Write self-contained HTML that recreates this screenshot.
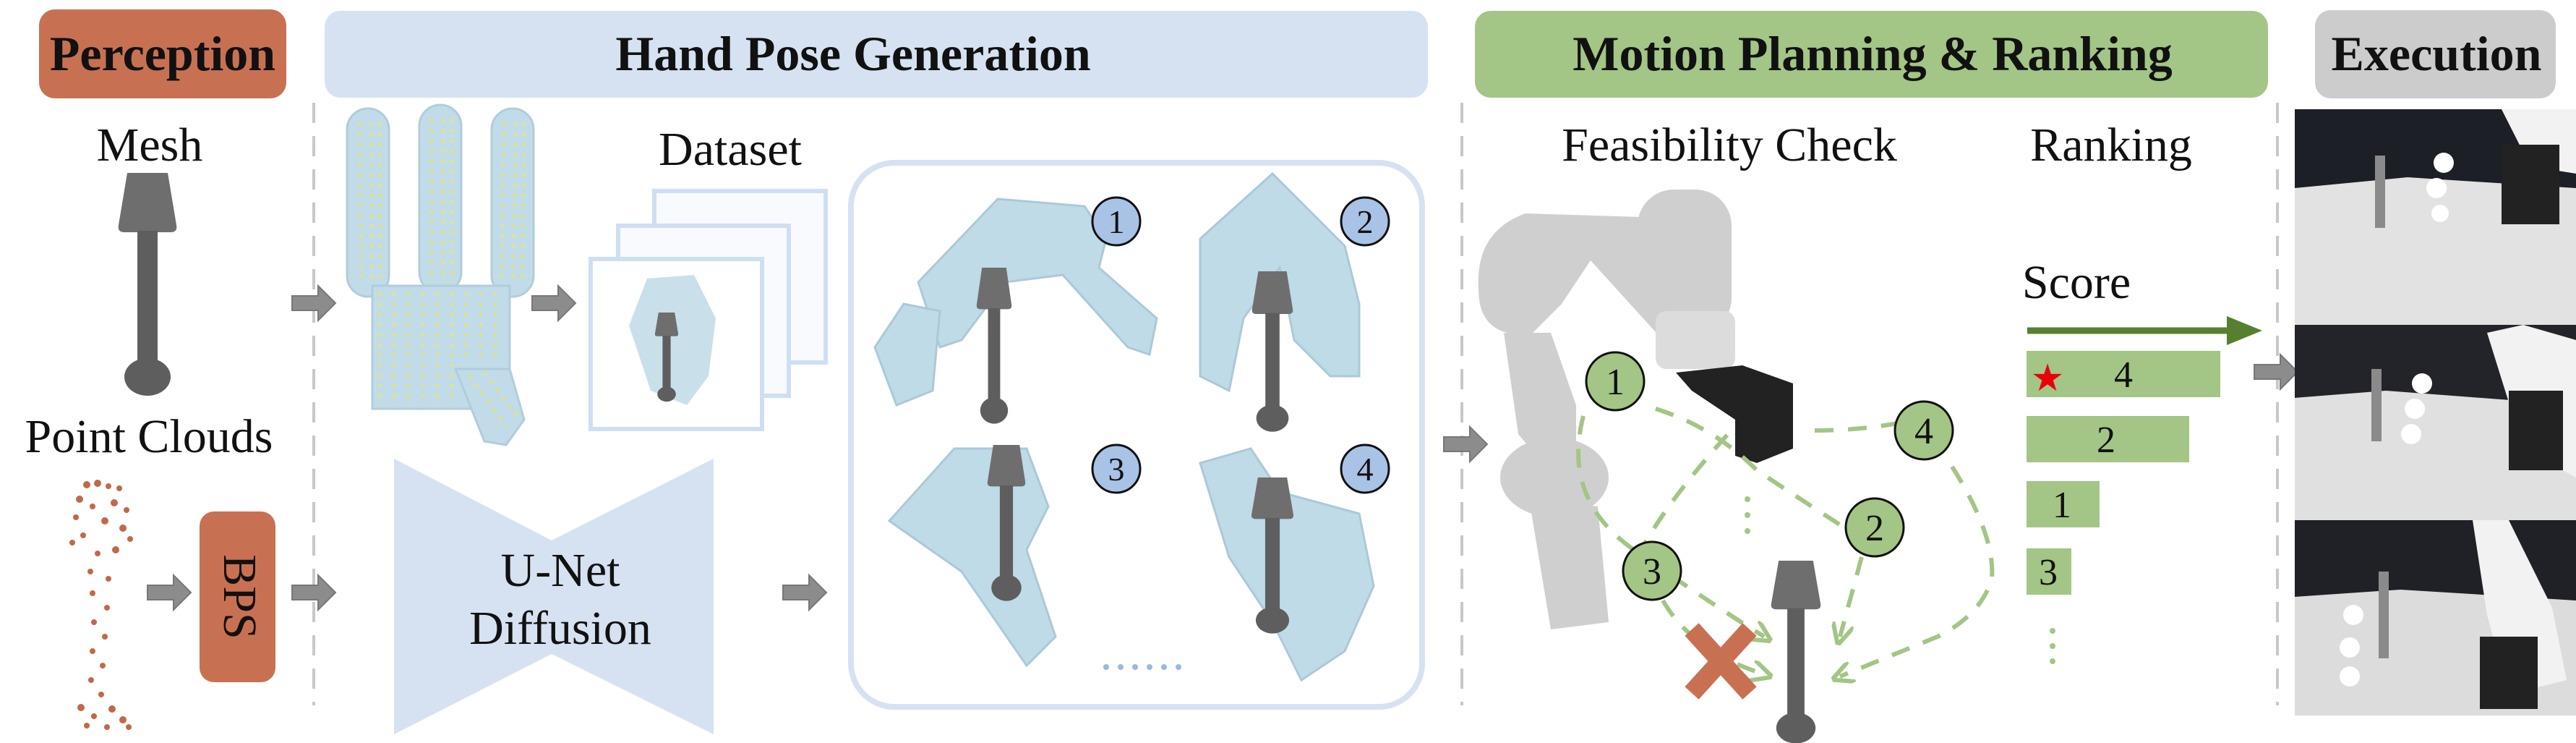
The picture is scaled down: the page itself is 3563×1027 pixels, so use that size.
<!DOCTYPE html>
<html><head><meta charset="utf-8"><style>
html,body{margin:0;padding:0;background:#fff}
svg{display:block}
svg text{font-family:"Liberation Serif","DejaVu Serif",serif}
</style></head><body>
<svg width="3563" height="1027" viewBox="0 0 3563 1027" xmlns="http://www.w3.org/2000/svg" font-family="Liberation Serif, DejaVu Serif, serif">
<defs>
<marker id="ga" viewBox="0 0 10 10" refX="6" refY="5" markerWidth="5" markerHeight="5" orient="auto"><path d="M0,0 L10,5 L0,10" fill="none" stroke="#a3c585" stroke-width="2"/></marker>
<g id="arr"><path d="M0,-10 H36 V-24 L60,0 L36,24 V10 H0 Z" fill="#8c8c8c" stroke="#777" stroke-width="2"/></g>
<g id="lamp"><path d="M-28,0 H28 L40,72 Q42,82 32,82 H-32 Q-42,82 -40,72 Z" fill="#6e6e6e"/><rect x="-14" y="80" width="28" height="185" fill="#5e5e5e"/><ellipse cx="0" cy="282" rx="32" ry="26" fill="#5e5e5e"/></g>
</defs>

<rect x="54" y="13" width="342" height="123" rx="22" fill="#c87152"/>
<text x="225" y="97" font-size="68" font-weight="bold" text-anchor="middle" fill="#111">Perception</text>
<rect x="449" y="15" width="1526" height="120" rx="22" fill="#d6e2f2"/>
<text x="1180" y="97" font-size="68" font-weight="bold" text-anchor="middle" fill="#111">Hand Pose Generation</text>
<rect x="2040" y="15" width="1097" height="120" rx="22" fill="#a3c585"/>
<text x="2590" y="97" font-size="68" font-weight="bold" text-anchor="middle" fill="#111">Motion Planning &amp; Ranking</text>
<rect x="3202" y="14" width="333" height="122" rx="22" fill="#cccccc"/>
<text x="3370" y="97" font-size="68" font-weight="bold" text-anchor="middle" fill="#111">Execution</text>

<g stroke="#c8c8c8" stroke-width="4" stroke-dasharray="28,18">
<line x1="434" y1="142" x2="434" y2="975"/>
<line x1="2022" y1="142" x2="2022" y2="975"/>
<line x1="3150" y1="142" x2="3150" y2="975"/>
</g>

<text x="207" y="222" font-size="66" text-anchor="middle" fill="#111">Mesh</text>
<use href="#lamp" transform="translate(204,239)"/>
<text x="206" y="625" font-size="66" text-anchor="middle" fill="#111">Point Clouds</text>
<g fill="#c2674a">
<circle cx="120" cy="670" r="5"/><circle cx="135" cy="668" r="5"/><circle cx="150" cy="672" r="4"/><circle cx="165" cy="675" r="4"/><circle cx="110" cy="690" r="5"/><circle cx="158" cy="695" r="5"/><circle cx="128" cy="700" r="4"/><circle cx="175" cy="705" r="4"/><circle cx="105" cy="715" r="4"/><circle cx="145" cy="720" r="5"/><circle cx="170" cy="730" r="5"/><circle cx="115" cy="740" r="4"/><circle cx="180" cy="745" r="4"/><circle cx="100" cy="750" r="4"/><circle cx="160" cy="760" r="5"/><circle cx="135" cy="765" r="4"/><circle cx="125" cy="790" r="4"/><circle cx="150" cy="800" r="4"/><circle cx="128" cy="820" r="4"/><circle cx="148" cy="840" r="4"/><circle cx="130" cy="860" r="4"/><circle cx="145" cy="880" r="4"/><circle cx="128" cy="900" r="4"/><circle cx="142" cy="920" r="4"/><circle cx="126" cy="940" r="4"/><circle cx="140" cy="960" r="4"/><circle cx="112" cy="978" r="5"/><circle cx="155" cy="980" r="5"/><circle cx="130" cy="990" r="4"/><circle cx="170" cy="995" r="5"/><circle cx="120" cy="1003" r="4"/><circle cx="148" cy="1005" r="4"/><circle cx="178" cy="1005" r="4"/>
</g>
<rect x="276" y="707" width="105" height="236" rx="20" fill="#c87152"/>
<text transform="translate(310,825) rotate(90)" font-size="66" text-anchor="middle" fill="#111">BPS</text>

<use href="#arr" transform="translate(404,419)"/>
<use href="#arr" transform="translate(736,419)"/>
<use href="#arr" transform="translate(204,819)"/>
<use href="#arr" transform="translate(404,819)"/>
<use href="#arr" transform="translate(1083,819)"/>
<use href="#arr" transform="translate(1997,614)"/>
<use href="#arr" transform="translate(3118,514)"/>

<g fill="#bcd8e6" stroke="#a8c8d8" stroke-width="3" opacity="0.9">
<rect x="480" y="150" width="58" height="260" rx="29"/>
<rect x="580" y="145" width="58" height="260" rx="29"/>
<rect x="680" y="150" width="58" height="260" rx="29"/>
<rect x="515" y="395" width="190" height="170" />
<path d="M630,510 L705,510 L725,580 L700,615 L670,610 Z"/>
</g>
<g stroke="#e6e66a" stroke-width="4" stroke-dasharray="4,10" fill="none">
<line x1="497" y1="170" x2="500" y2="390"/><line x1="513" y1="170" x2="515" y2="390"/><line x1="525" y1="170" x2="527" y2="390"/>
<line x1="597" y1="165" x2="597" y2="390"/><line x1="613" y1="165" x2="613" y2="390"/><line x1="625" y1="165" x2="625" y2="390"/>
<line x1="697" y1="170" x2="694" y2="390"/><line x1="713" y1="170" x2="710" y2="390"/><line x1="725" y1="170" x2="722" y2="390"/>
<line x1="525" y1="405" x2="525" y2="560"/><line x1="545" y1="405" x2="545" y2="560"/><line x1="565" y1="405" x2="565" y2="560"/><line x1="585" y1="405" x2="585" y2="560"/><line x1="605" y1="405" x2="605" y2="560"/><line x1="625" y1="405" x2="625" y2="560"/><line x1="645" y1="405" x2="645" y2="500"/><line x1="665" y1="405" x2="665" y2="500"/><line x1="685" y1="405" x2="685" y2="500"/>
<line x1="650" y1="520" x2="700" y2="590"/><line x1="670" y1="515" x2="715" y2="575"/>
</g>

<text x="1010" y="228" font-size="66" text-anchor="middle" fill="#111">Dataset</text>
<rect x="905" y="264" width="237" height="237" fill="#f8fafd" stroke="#cfdff2" stroke-width="6"/>
<rect x="855" y="312" width="236" height="235" fill="#f8fafd" stroke="#cfdff2" stroke-width="6"/>
<rect x="817" y="358" width="237" height="235" fill="#fff" stroke="#cfdff2" stroke-width="6"/>
<g fill="#bcd8e6" opacity="0.8"><path d="M895,385 L960,380 L990,440 L980,520 L950,560 L900,540 L870,450 Z"/></g>
<g transform="translate(922,432) scale(0.4)"><use href="#lamp"/></g>

<rect x="1177" y="225" width="790" height="752" rx="60" fill="none" stroke="#d6e2f2" stroke-width="8"/>
<g fill="#a9cfdf" opacity="0.75" stroke="#8fb8cc" stroke-width="3">
<path d="M1270,390 L1380,275 L1500,285 L1530,330 L1520,370 L1600,440 L1590,490 L1560,480 L1470,380 L1390,390 L1330,470 L1300,480 Z"/>
<path d="M1210,480 L1250,420 L1300,430 L1290,540 L1240,560 Z"/>
<path d="M1660,330 L1760,240 L1860,340 L1880,420 L1880,520 L1840,520 L1790,470 L1770,370 L1720,440 L1700,540 L1660,520 Z"/>
<path d="M1230,720 L1320,620 L1420,620 L1450,700 L1420,760 L1460,880 L1420,920 L1330,790 Z"/>
<path d="M1660,640 L1730,620 L1770,680 L1880,710 L1900,810 L1860,900 L1800,940 L1760,860 L1700,770 Z"/>
</g>
<use href="#lamp" transform="translate(1375,370) scale(0.6,0.7)"/>
<use href="#lamp" transform="translate(1760,375) scale(0.7,0.72)"/>
<use href="#lamp" transform="translate(1392,615) scale(0.65,0.7)"/>
<use href="#lamp" transform="translate(1760,660) scale(0.72,0.7)"/>
<g font-size="46" text-anchor="middle" fill="#111">
<circle cx="1544" cy="306" r="33" fill="#a9c3e6" stroke="#111" stroke-width="3"/><text x="1544" y="322">1</text>
<circle cx="1888" cy="306" r="33" fill="#a9c3e6" stroke="#111" stroke-width="3"/><text x="1888" y="322">2</text>
<circle cx="1544" cy="648" r="33" fill="#a9c3e6" stroke="#111" stroke-width="3"/><text x="1544" y="664">3</text>
<circle cx="1888" cy="648" r="33" fill="#a9c3e6" stroke="#111" stroke-width="3"/><text x="1888" y="664">4</text>
</g>
<g fill="#9ab8e0"><circle cx="1530" cy="922" r="4"/><circle cx="1550" cy="922" r="4"/><circle cx="1570" cy="922" r="4"/><circle cx="1590" cy="922" r="4"/><circle cx="1610" cy="922" r="4"/><circle cx="1630" cy="922" r="4"/></g>

<path d="M545,634 L763,747 L987,634 L987,1015 L763,904 L545,1015 Z" fill="#d6e2f2"/>
<text x="775" y="810" font-size="66" text-anchor="middle" fill="#111">U-Net</text>
<text x="775" y="890" font-size="66" text-anchor="middle" fill="#111">Diffusion</text>

<text x="2392" y="222" font-size="66" text-anchor="middle" fill="#111">Feasibility Check</text>
<text x="2920" y="222" font-size="66" text-anchor="middle" fill="#111">Ranking</text>
<g fill="#cfcfcf">
<path d="M2045,400 Q2040,320 2110,295 L2270,300 L2330,280 L2335,440 L2300,470 L2200,360 L2160,420 L2120,460 L2085,460 Q2045,450 2045,400 Z"/>
<rect x="2265" y="262" width="130" height="200" rx="50"/>
<rect x="2290" y="430" width="110" height="80" rx="15" fill="#dcdcdc"/>
<path d="M2080,460 L2145,460 L2180,560 L2180,620 L2150,660 L2100,600 Z"/>
<ellipse cx="2150" cy="660" rx="75" ry="55"/>
<path d="M2115,690 L2210,700 L2225,860 L2145,870 Z"/>
</g>
<path d="M2318,515 L2410,505 L2480,530 L2480,620 L2430,640 L2400,630 L2400,580 L2340,540 Z" fill="#222"/>
<use href="#lamp" transform="translate(2484,775) scale(0.85,0.82)"/>
<g fill="none" stroke="#a3c585" stroke-width="6" stroke-dasharray="26,20">
<path d="M2290,565 Q2370,590 2430,650 Q2490,690 2560,735"/>
<path d="M2190,575 Q2160,690 2260,760 Q2360,830 2440,880" marker-end="url(#ga)"/>
<path d="M2265,770 Q2300,700 2390,600"/>
<path d="M2300,830 Q2340,900 2440,932" marker-end="url(#ga)"/>
<path d="M2575,770 L2545,880" marker-end="url(#ga)"/>
<path d="M2510,595 Q2570,595 2625,585"/>
<path d="M2700,645 Q2760,740 2755,800 Q2740,850 2680,880 L2545,935" marker-end="url(#ga)"/>
</g>
<g fill="#a3c585"><circle cx="2417" cy="690" r="4"/><circle cx="2417" cy="712" r="4"/><circle cx="2417" cy="734" r="4"/></g>
<g font-size="52" text-anchor="middle" fill="#111">
<circle cx="2234" cy="527" r="40" fill="#a3c585" stroke="#111" stroke-width="3"/><text x="2234" y="545">1</text>
<circle cx="2661" cy="595" r="40" fill="#a3c585" stroke="#111" stroke-width="3"/><text x="2661" y="613">4</text>
<circle cx="2593" cy="729" r="40" fill="#a3c585" stroke="#111" stroke-width="3"/><text x="2593" y="747">2</text>
<circle cx="2285" cy="789" r="40" fill="#a3c585" stroke="#111" stroke-width="3"/><text x="2285" y="807">3</text>
</g>
<g stroke="#c87152" stroke-width="26"><line x1="2340" y1="870" x2="2420" y2="958"/><line x1="2420" y1="870" x2="2340" y2="958"/></g>

<text x="2872" y="412" font-size="66" text-anchor="middle" fill="#111">Score</text>
<line x1="2804" y1="457" x2="3090" y2="457" stroke="#56802f" stroke-width="9"/>
<path d="M3080,437 L3129,457 L3080,477 Z" fill="#56802f"/>
<g fill="#a3c585">
<rect x="2803" y="485" width="268" height="64"/>
<rect x="2803" y="575" width="225" height="64"/>
<rect x="2803" y="665" width="101" height="64"/>
<rect x="2803" y="758" width="62" height="64"/>
</g>
<text x="2832" y="540" font-size="52" text-anchor="middle" fill="#e8000a">★</text>
<g font-size="52" text-anchor="middle" fill="#111">
<text x="2937" y="535">4</text><text x="2913" y="625">2</text><text x="2852" y="715">1</text><text x="2833" y="808">3</text>
</g>
<g fill="#a3c585"><circle cx="2839" cy="872" r="4"/><circle cx="2839" cy="893" r="4"/><circle cx="2839" cy="914" r="4"/></g>

<rect x="3174" y="151" width="389" height="298" fill="#1d1f26"/>
<path d="M3174,449 L3174,260 L3330,245 L3563,260 L3563,449 Z" fill="#e2e2e2"/>
<rect x="3174" y="449" width="389" height="270" fill="#22242a"/>
<path d="M3174,719 L3174,550 L3300,540 L3563,560 L3563,719 Z" fill="#e0e0e0"/>
<rect x="3174" y="719" width="389" height="270" fill="#1f2127"/>
<path d="M3174,989 L3174,825 L3320,815 L3563,830 L3563,989 Z" fill="#dcdcdc"/>
<g fill="#f2f2f2">
<path d="M3460,151 L3563,151 L3563,240 L3500,230 Z"/>
<path d="M3440,460 L3490,449 L3563,470 L3563,660 L3490,620 Z"/>
<path d="M3420,719 L3470,719 L3530,840 L3550,940 L3470,960 L3440,850 Z"/>
</g>
<g fill="#222"><rect x="3460" y="200" width="80" height="110"/><rect x="3470" y="540" width="75" height="110"/><rect x="3430" y="880" width="80" height="100"/></g>
<g fill="#8a8a8a"><rect x="3285" y="215" width="14" height="100"/><rect x="3280" y="510" width="14" height="100"/><rect x="3290" y="790" width="14" height="120"/></g>
<g fill="#fff"><circle cx="3380" cy="225" r="14"/><circle cx="3370" cy="260" r="14"/><circle cx="3375" cy="295" r="12"/><circle cx="3350" cy="530" r="14"/><circle cx="3340" cy="565" r="14"/><circle cx="3335" cy="600" r="14"/><circle cx="3255" cy="850" r="14"/><circle cx="3250" cy="895" r="14"/><circle cx="3250" cy="935" r="14"/></g>
</svg>
</body></html>
